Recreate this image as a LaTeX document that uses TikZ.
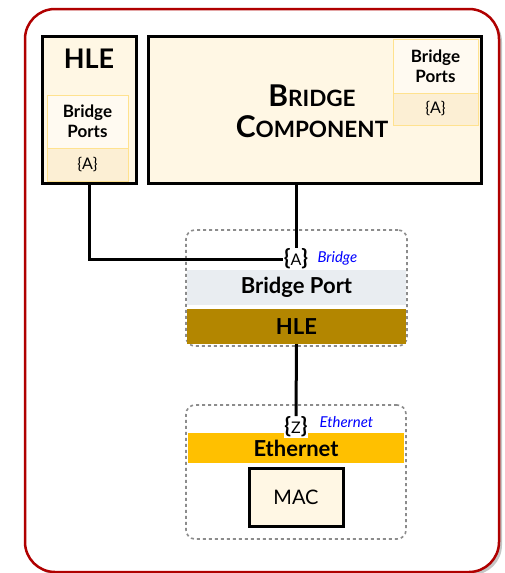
\documentclass[tikz,border=0pt]{standalone}
\usepackage{fontspec}
\setmainfont{Lato}
\usetikzlibrary{shadows}

\definecolor{cream}{HTML}{FFF7E4}
\definecolor{portlt}{HTML}{FFFAF1}
\definecolor{portdk}{HTML}{FCEFD4}
\definecolor{portln}{HTML}{FFE28F}
\definecolor{framered}{HTML}{B00000}
\definecolor{bpgrey}{HTML}{E9EDF1}
\definecolor{hlegold}{HTML}{B38600}
\definecolor{ethyel}{HTML}{FFC000}
\definecolor{dashgrey}{HTML}{8C8C8C}

\tikzset{
  blk/.style={draw=black,line width=3pt,fill=cream,inner sep=0pt},
  prt/.style={draw=portln,line width=1pt,inner sep=0pt,align=center},
  grp/.style={draw=dashgrey,dashed,line width=1.6pt,rounded corners=9pt,inner sep=0pt},
  band/.style={draw=none,inner sep=0pt,minimum width=219pt},
  ifc/.style={fill=white,inner sep=0.5pt,font=\fontsize{16}{18}\selectfont},
  tag/.style={text=blue,font=\fontsize{15}{17}\selectfont\itshape,anchor=west},
  wire/.style={line width=3pt}
}
\newcommand{\brk}[1]{{\bfseries\fontsize{22}{22}\selectfont\{}#1{\bfseries\fontsize{22}{22}\selectfont\}}}

\begin{document}
\begin{tikzpicture}[x=1pt,y=-1pt]
\useasboundingbox (0,0) rectangle (504,573);
% outer frame
\draw[framered,line width=2.5pt,rounded corners=30pt,fill=white,
  drop shadow={shadow xshift=3pt,shadow yshift=-3pt,fill=black!45}]
  (25,9) rectangle (499,572);

% top row
\node[blk,minimum width=94pt,minimum height=147pt] (hle) at (89,109.5) {};
\node[font=\fontsize{27}{29}\selectfont\bfseries] (hlet) at (89,59) {HLE};
\node[prt,fill=portlt,minimum width=81pt,minimum height=53pt,font=\fontsize{17}{20}\selectfont\bfseries]
  (hleports) at (87.5,121.5) {Bridge\\Ports};
\node[prt,fill=portdk,minimum width=81pt,minimum height=33pt,font=\fontsize{16}{18}\selectfont]
  (hlea) at (87.5,164.5) {\{A\}};

\node[blk,minimum width=333pt,minimum height=147pt] (bc) at (314.5,109.5) {};
\node[align=center,font=\fontsize{30}{31}\selectfont\bfseries] (bct) at (312,111)
  {B{\fontsize{22.5}{31}\selectfont RIDGE}\\
   C{\fontsize{22.5}{31}\selectfont OMPONENT}};
\node[prt,fill=portlt,minimum width=85pt,minimum height=54pt,font=\fontsize{17}{20}\selectfont\bfseries]
  (bcports) at (435.5,66) {Bridge\\Ports};
\node[prt,fill=portdk,minimum width=85pt,minimum height=32pt,font=\fontsize{16}{18}\selectfont]
  (bca) at (435.5,109) {\{A\}};

% bridge port group
\node[grp,minimum width=221pt,minimum height=116pt] (bpgrp) at (296.5,288) {};
\node[band,fill=bpgrey,minimum height=35pt,font=\fontsize{22}{24}\selectfont\bfseries]
  (bpband) at (296.5,287.5) {Bridge Port};
\node[band,fill=hlegold,minimum height=35pt,font=\fontsize{22}{24}\selectfont\bfseries]
  (hleband) at (296.5,326.5) {HLE};
\node[ifc] (a) at (296,259) {\brk{A}};
\node[tag] (atag) at (314,258) {Bridge};

% ethernet group
\node[grp,minimum width=220pt,minimum height=134pt] (ethgrp) at (296,472) {};
\node[band,fill=ethyel,minimum width=216pt,minimum height=30pt,font=\fontsize{22}{24}\selectfont\bfseries]
  (ethband) at (296,448) {Ethernet};
\node[ifc] (z) at (296,427) {\brk{Z}};
\node[tag] (ztag) at (316,422) {Ethernet};
\node[blk,minimum width=94pt,minimum height=58pt,font=\fontsize{20}{22}\selectfont] (mac) at (296,497) {MAC};

% wires
\draw[wire] (hle.south) |- (a.west);
\draw[wire] (a.north |- bc.south) -- (a.north);
\draw[wire] (hleband.south) -- (z.north);
\end{tikzpicture}
\end{document}
